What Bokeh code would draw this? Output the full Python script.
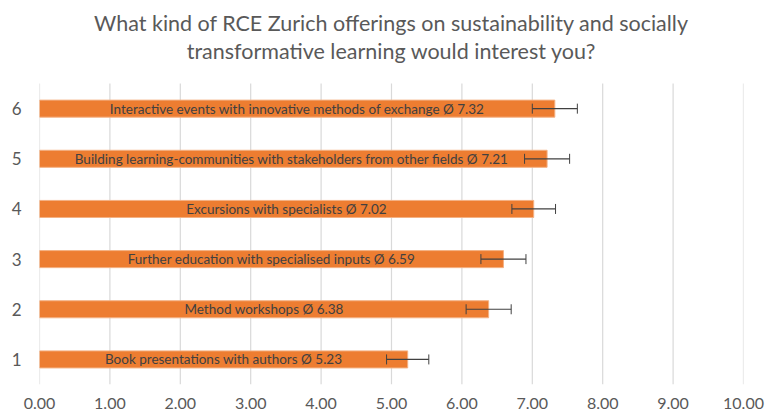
from bokeh.plotting import figure
from bokeh.models import ColumnDataSource, Whisker, Title, FixedTicker, CustomJSTickFormatter, Spacer
from bokeh.layouts import column
from bokeh.embed import file_html
from bokeh.resources import INLINE
from bokeh.core.properties import value

categories = [1, 2, 3, 4, 5, 6]
names = [
    "Book presentations with authors",
    "Method workshops",
    "Further education with specialised inputs",
    "Excursions with specialists",
    "Building learning-communities with stakeholders from other fields ",
    "Interactive events with innovative methods of exchange",
]
means = [5.23, 6.38, 6.59, 7.02, 7.21, 7.32]
errors = [0.30, 0.32, 0.32, 0.31, 0.32, 0.32]
x_ticks = [0, 1, 2, 3, 4, 5, 6, 7, 8, 9, 10]
title_lines = ["What kind of RCE Zurich offerings on sustainability and socially",
               "transformative learning would interest you?"]

FONT = "Lato"
labels = [f"{n} Ø {m:.2f}" for n, m in zip(names, means)]
src = ColumnDataSource(dict(
    y=categories, m=means, mid=[m / 2 for m in means],
    lo=[m - e for m, e in zip(means, errors)],
    hi=[m + e for m, e in zip(means, errors)],
    lab=labels,
))
y_lo = min(categories) - 0.5
y_hi = max(categories) + 0.5

p = figure(width=765, height=408, output_backend="svg", toolbar_location=None,
           x_range=(0, 10), y_range=(y_lo, y_hi + 0.4),
           min_border_left=39, min_border_right=22, min_border_top=0, min_border_bottom=31)
p.outline_line_color = None
p.background_fill_color = "white"

# vertical grid lines limited to the category area
p.segment(x0=x_ticks, y0=[y_lo] * len(x_ticks), x1=x_ticks, y1=[y_hi] * len(x_ticks),
          line_color="#D9D9D9", line_width=1.2)
p.xgrid.grid_line_color = None
p.ygrid.grid_line_color = None

p.hbar(y="y", left=0, right="m", height=0.34, source=src,
       fill_color="#ED7D31", line_color="#F4B183", line_width=1)
p.text(x="mid", y="y", text="lab", source=src, text_align="center", text_baseline="middle",
       text_font=value(FONT), text_font_size="13.5px", text_color="#404040")
w = Whisker(base="y", lower="lo", upper="hi", source=src, dimension="width",
            line_color="#404040", line_width=1.2, level="overlay")
w.upper_head.size = 10
w.lower_head.size = 10
w.upper_head.line_color = "#404040"
w.lower_head.line_color = "#404040"
p.add_layout(w)

p.xaxis.ticker = FixedTicker(ticks=x_ticks)
p.xaxis.formatter = CustomJSTickFormatter(code="return tick.toFixed(2);")
p.yaxis.ticker = FixedTicker(ticks=categories)
for ax in (p.xaxis, p.yaxis):
    ax.axis_line_color = None
    ax.major_tick_line_color = None
    ax.minor_tick_line_color = None
    ax.major_tick_out = 0
    ax.major_tick_in = 0
    ax.major_label_text_font = FONT
    ax.major_label_text_color = "#595959"
p.xaxis.major_label_text_font_size = "16px"
p.yaxis.major_label_text_font_size = "17px"
p.xaxis.major_label_standoff = 13
p.yaxis.major_label_standoff = 18

t2 = Title(text=title_lines[1], align="center",
           text_font=FONT, text_font_size="21.5px", text_font_style="normal",
           text_color="#595959", standoff=0)
t1 = Title(text=title_lines[0], align="center",
           text_font=FONT, text_font_size="21.5px", text_font_style="normal",
           text_color="#595959", standoff=0)
p.add_layout(t2, "above")
p.add_layout(t1, "above")

layout = column(Spacer(width=765, height=7), p)
open("out.html", "w").write(file_html(layout, INLINE))
